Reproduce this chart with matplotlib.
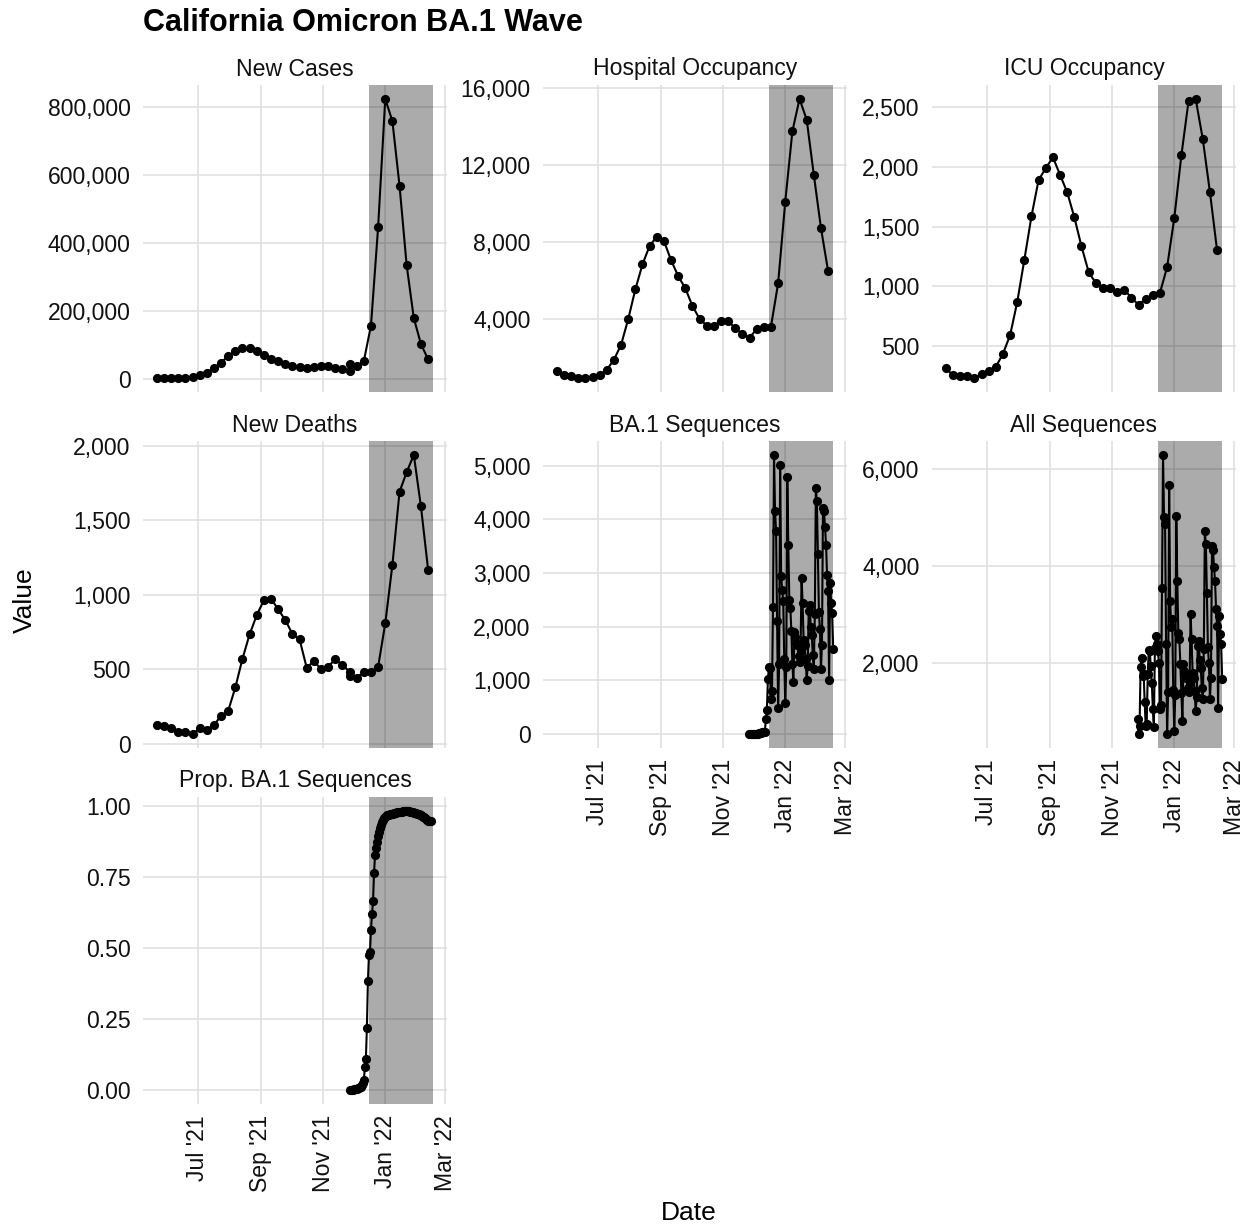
import numpy as np
import pandas as pd
import matplotlib
matplotlib.use("Agg")
import matplotlib.pyplot as plt
import matplotlib.dates as mdates
from matplotlib.ticker import FixedLocator, FuncFormatter

plt.rcParams["font.family"] = ["Liberation Sans", "DejaVu Sans"]

# ── Data ──────────────────────────────────────────────────────────────────────

weekly = pd.date_range("2021-05-22", periods=39, freq="7D")
# cases / deaths carry one extra report in Thanksgiving week
cd_dates = weekly.insert(28, weekly[27])
seq_dates = pd.date_range("2021-11-26", "2022-02-17", freq="D")
prop_dates = pd.date_range("2021-11-27", "2022-02-15", freq="D")

shade_start = pd.Timestamp("2021-12-16")
shade_end = pd.Timestamp("2022-02-17")

new_cases = [5000, 5000, 4000, 4000, 5000, 7000, 12000, 20000, 34000, 49000,
             69000, 83000, 93000, 92000, 82000, 72000, 60000, 54000, 44000, 39000,
             36000, 34000, 37000, 39000, 39000, 34000, 31000, 24000, 44000, 39000,
             54000, 158000, 447000, 824000, 759000, 569000, 335000, 180000, 104000, 59000]

new_deaths = [129, 122, 107, 82, 82, 67, 105, 96, 127, 189,
              223, 379, 572, 735, 864, 964, 975, 902, 831, 737,
              701, 510, 557, 501, 519, 568, 530, 485, 456, 445,
              483, 483, 517, 808, 1200, 1690, 1822, 1937, 1592, 1169]

hospital = [1293, 1121, 1035, 948, 948, 983, 1121, 1379, 1897, 2672,
            4000, 5552, 6845, 7810, 8276, 8069, 7069, 6241, 5603, 4690,
            4017, 3672, 3672, 3897, 3897, 3534, 3241, 3052, 3483, 3621,
            3621, 5862, 10103, 13758, 15431, 14362, 11500, 8741, 6500]

icu = [319, 258, 250, 250, 236, 272, 292, 328, 439, 592,
       869, 1222, 1586, 1889, 1986, 2078, 1931, 1786, 1578, 1336,
       1122, 1028, 983, 983, 956, 972, 906, 847, 897, 931,
       947, 1161, 1569, 2094, 2545, 2564, 2228, 1786, 1300]

ba1_seq = [0, 0, 0, 2, 3, 4, 6, 5, 4, 5,
           12, 20, 28, 35, 40, 35, 45, 276, 448, 1030,
           1245, 1230, 660, 800, 2370, 5200, 4150, 3790, 2100, 478,
           1300, 5006, 2945, 2687, 2472, 1400, 570, 1250, 4791, 3515,
           2503, 2350, 1920, 1300, 969, 1900, 1800, 1700, 1650, 1450,
           1350, 1550, 2914, 2442, 1750, 1650, 1400, 1012, 1270, 2290,
           2400, 2000, 1850, 1470, 1215, 2230, 4589, 4343, 3362, 2270,
           1950, 1215, 1650, 4209, 4160, 3853, 3527, 2963, 2656, 1012,
           2810, 2442, 2258, 1583]

all_seq = [846, 546, 720, 1925, 2116, 1740, 1780, 1195, 717, 760,
           1775, 2266, 2250, 1945, 1600, 1058, 696, 2320, 2560, 2403,
           2250, 2000, 1058, 1150, 3550, 6280, 4997, 4860, 2390, 546,
           1400, 5666, 3276, 2744, 2900, 1450, 614, 1350, 5017, 3686,
           2628, 2491, 1980, 1380, 819, 1980, 1843, 1760, 1700, 1500,
           1400, 1600, 3003, 2491, 1800, 1700, 1433, 1024, 1300, 2355,
           2457, 2061, 1900, 1500, 1263, 2300, 4724, 4451, 3447, 2334,
           2000, 1263, 1700, 4403, 4335, 3973, 3686, 3106, 2765, 1078,
           2969, 2594, 2389, 1672]

prop_ba1 = [0.000, 0.000, 0.001, 0.001, 0.002, 0.003, 0.004, 0.005, 0.006, 0.007,
            0.009, 0.012, 0.018, 0.025, 0.035, 0.080, 0.110, 0.220, 0.385, 0.475,
            0.485, 0.565, 0.620, 0.665, 0.765, 0.830, 0.855, 0.875, 0.895, 0.910,
            0.925, 0.935, 0.945, 0.952, 0.958, 0.962, 0.965, 0.968, 0.970, 0.971,
            0.972, 0.973, 0.974, 0.975, 0.976, 0.977, 0.978, 0.979, 0.980, 0.981,
            0.981, 0.982, 0.983, 0.983, 0.984, 0.984, 0.984, 0.983, 0.983, 0.982,
            0.981, 0.980, 0.979, 0.978, 0.977, 0.976, 0.975, 0.974, 0.972, 0.970,
            0.968, 0.966, 0.964, 0.961, 0.958, 0.955, 0.952, 0.949, 0.947, 0.948,
            0.950]

# (title, dates, values, y ticks, decimals)
panels = [
    ("New Cases", cd_dates, new_cases, [0, 200000, 400000, 600000, 800000], 0),
    ("Hospital Occupancy", weekly, hospital, [4000, 8000, 12000, 16000], 0),
    ("ICU Occupancy", weekly, icu, [500, 1000, 1500, 2000, 2500], 0),
    ("New Deaths", cd_dates, new_deaths, [0, 500, 1000, 1500, 2000], 0),
    ("BA.1 Sequences", seq_dates, ba1_seq, [0, 1000, 2000, 3000, 4000, 5000], 0),
    ("All Sequences", seq_dates, all_seq, [2000, 4000, 6000], 0),
    ("Prop. BA.1 Sequences", prop_dates, prop_ba1, [0, 0.25, 0.5, 0.75, 1.0], 2),
]

x_ticks = pd.to_datetime(["2021-07-01", "2021-09-01", "2021-11-01",
                          "2022-01-01", "2022-03-01"])

# ── Layout (pixels) ───────────────────────────────────────────────────────────

W, H = 1252, 1228
COL_LEFT = [143, 543, 932]
ROW_TOP = [85, 441, 797]
PW, PH = 304, 307
GRID = "#dedede"
TICK_FS = 16.6
BOTTOM = {0: 2, 1: 1, 2: 1}   # lowest row per column → carries x labels

lo = min(weekly.min(), seq_dates.min())
hi = max(weekly.max(), seq_dates.max(), shade_end)
pad = (hi - lo) * 0.05
xlim = (mdates.date2num(lo - pad), mdates.date2num(hi + pad))

fig = plt.figure(figsize=(W / 100, H / 100), dpi=100, facecolor="white")

for i, (title, dates, vals, yt, dec) in enumerate(panels):
    row, col = divmod(i, 3)
    l, t = COL_LEFT[col], ROW_TOP[row]
    ax = fig.add_axes([l / W, 1 - (t + PH) / H, PW / W, PH / H])
    ax.set_axisbelow(True)

    ax.axvspan(shade_start, shade_end, color="black", alpha=0.33, lw=0, zorder=2)
    ax.plot(dates, vals, color="black", lw=1.5, zorder=3)
    ax.plot(dates, vals, "o", ms=6.6, color="black", mec="none", zorder=4)

    vmin, vmax = min(vals), max(vals)
    r = vmax - vmin
    ax.set_ylim(vmin - 0.05 * r, vmax + 0.05 * r)
    ax.set_xlim(*xlim)

    ax.yaxis.set_major_locator(FixedLocator(yt))
    if dec:
        ax.yaxis.set_major_formatter(FuncFormatter(lambda v, p: f"{v:.2f}"))
    else:
        ax.yaxis.set_major_formatter(FuncFormatter(lambda v, p: f"{v:,.0f}"))
    ax.xaxis.set_major_locator(FixedLocator(mdates.date2num(x_ticks)))
    ax.xaxis.set_major_formatter(mdates.DateFormatter("%b '%y"))

    ax.grid(True, color=GRID, lw=1.1)
    for s in ax.spines.values():
        s.set_visible(False)
    ax.tick_params(length=0, labelsize=TICK_FS, colors="#111111", pad=9)

    if BOTTOM[col] == row:
        for lab in ax.get_xticklabels():
            lab.set_rotation(90)
            lab.set_va("top")
            lab.set_ha("center")
        ax.tick_params(axis="x", pad=8)
    else:
        ax.tick_params(axis="x", labelbottom=False)

    ax.text(0.5, 1 + 16 / PH, title, transform=ax.transAxes, ha="center",
            va="center", fontsize=TICK_FS, color="#111111")

fig.text(143 / W, 1 - 23 / H, "California Omicron BA.1 Wave", ha="left",
         va="center", fontsize=22, fontweight="bold")
fig.text(25 / W, 1 - 600 / H, "Value", rotation=90, ha="center", va="center",
         fontsize=19)
fig.text(689 / W, 1 - 1213 / H, "Date", ha="center", va="center", fontsize=19)

fig.savefig("out.png", dpi=100, facecolor="white")
